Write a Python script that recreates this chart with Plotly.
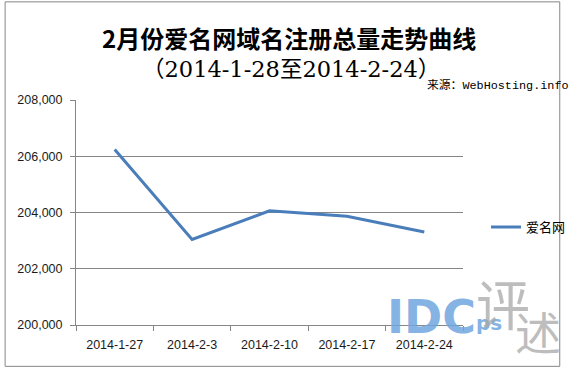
import plotly.graph_objects as go

categories = ["2014-1-27", "2014-2-3", "2014-2-10", "2014-2-17", "2014-2-24"]
values = [206240, 203040, 204060, 203870, 203310]
series_name = "爱名网"
title_text = "2月份爱名网域名注册总量走势曲线"
subtitle_text = "（2014-1-28至2014-2-24）"
source_text = "来源：WebHosting.info"

W, H = 583, 368
L, R, T, B = 76, 480, 100, 324.7

def px(x):
    return (x - L) / (R - L)

def py(y):
    return (B - y) / (B - T)

fig = go.Figure()
fig.add_trace(go.Scatter(
    x=categories, y=values, mode="lines", name=series_name,
    line=dict(color="#4a7ebb", width=3),
))

axis_font = dict(family="Liberation Sans, Arial, sans-serif", size=12.5, color="#1a1a1a")
fig.update_layout(
    width=W, height=H,
    margin=dict(l=L, r=W - R, t=T, b=H - B),
    paper_bgcolor="white", plot_bgcolor="white",
    showlegend=True,
    legend=dict(x=px(504), y=py(227), xanchor="left", yanchor="middle",
                font=dict(family="Noto Sans CJK SC", size=13, color="#000"),
                bgcolor="rgba(0,0,0,0)", itemwidth=30),
    xaxis=dict(
        type="category", range=[-0.5, 4.5], showgrid=False,
        showline=True, linecolor="#868686", linewidth=1,
        ticks="outside", tickson="boundaries", ticklen=5, tickcolor="#868686",
        tickfont=axis_font, ticklabelstandoff=8, fixedrange=True,
    ),
    yaxis=dict(
        range=[200000, 208000], dtick=2000, tickformat=",d",
        showgrid=True, gridcolor="#868686", gridwidth=1,
        showline=True, linecolor="#868686", linewidth=1,
        ticks="outside", ticklen=5, tickcolor="#868686",
        tickfont=axis_font, ticklabelstandoff=5, zeroline=False, fixedrange=True,
    ),
)

# outer chart border
fig.add_shape(type="rect", xref="paper", yref="paper",
              x0=px(2), x1=px(581), y0=py(366), y1=py(2),
              line=dict(color="#868686", width=1), fillcolor="rgba(0,0,0,0)", layer="below")

fig.add_annotation(text=f"<b>{title_text}</b>", xref="paper", yref="paper",
                   x=px(298), y=py(38), xanchor="center", yanchor="middle", showarrow=False,
                   font=dict(family="Noto Sans CJK SC", size=24, color="#000"))
fig.add_annotation(text=subtitle_text, xref="paper", yref="paper",
                   x=px(300), y=py(69), xanchor="center", yanchor="middle", showarrow=False,
                   font=dict(family="DejaVu Serif, Noto Sans CJK SC", size=22.5, color="#000"))
fig.add_annotation(text=source_text, xref="paper", yref="paper",
                   x=px(593), y=py(86), xanchor="right", yanchor="middle", showarrow=False,
                   font=dict(family="Liberation Mono, Noto Sans CJK SC", size=11.8, color="#000"))

# watermark
fig.add_annotation(text="<b>IDC</b>", xref="paper", yref="paper",
                   x=px(399), y=py(317), xanchor="left", yanchor="middle", showarrow=False,
                   font=dict(family="DejaVu Sans, Liberation Sans", size=46, color="#6fa6e0", weight="bold"),
                   opacity=0.85)
fig.add_annotation(text="<b>ps</b>", xref="paper", yref="paper",
                   x=px(492), y=py(323), xanchor="left", yanchor="middle", showarrow=False,
                   font=dict(family="DejaVu Sans, Liberation Sans", size=20, color="#6fa6e0", weight="bold"),
                   opacity=0.85)
fig.add_annotation(text="评", xref="paper", yref="paper",
                   x=px(522), y=py(302), xanchor="center", yanchor="middle", showarrow=False,
                   font=dict(family="Noto Sans CJK SC", size=54, color="#a8a8a8"), opacity=0.75)
fig.add_annotation(text="述", xref="paper", yref="paper",
                   x=px(558), y=py(330), xanchor="center", yanchor="middle", showarrow=False,
                   font=dict(family="Noto Sans CJK SC", size=46, color="#a8a8a8"), opacity=0.75)

fig.write_html("out.html")
